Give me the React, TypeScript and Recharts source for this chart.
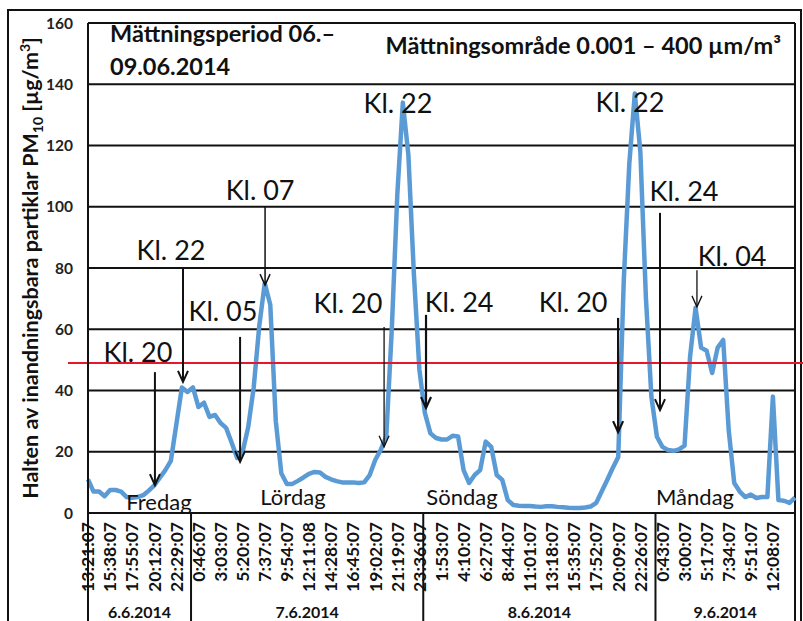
import React from 'react';
import {
    LineChart, Line, XAxis, YAxis, CartesianGrid,
    ReferenceLine, ReferenceDot
} from 'recharts';

const FONT = 'Lato, "Noto Sans", sans-serif';

// measurement start: 6.6.2014 13:21:07, one sample every 34.25 min
const startMinute = 13 * 60 + 21 + 7 / 60;
const sampleStep = 34.25;
const labelStep = 137;

// PM10 [µg/m3]
const pm10 = [
    11, 7, 7, 5.5, 7.5, 7.5, 7, 5.2, 5, 5.2,
    5.8, 7.3, 9, 11.5, 14, 17, 29, 41, 39.5, 41,
    34.6, 36, 31.4, 32, 29.4, 27.8, 23, 18, 20, 28,
    41, 61, 75, 68, 30, 13, 9.5, 9.5, 10.5, 11.6,
    12.8, 13.4, 13.2, 11.8, 11, 10.4, 10, 10, 10, 9.8,
    10, 12.4, 17.3, 20.6, 25, 60, 104, 134, 117, 78,
    46.7, 32.6, 26, 24.5, 24, 24, 25.2, 25, 14, 9.8,
    12.4, 14, 23.3, 21.6, 12.4, 10.8, 4.2, 2.6, 2.4, 2.3,
    2.3, 2.1, 2, 2.2, 2.2, 2, 1.9, 1.7, 1.6, 1.6,
    1.8, 2.1, 3.3, 7, 10.8, 14.7, 18.3, 76, 114, 137,
    118, 70.6, 38, 24.9, 21.6, 20.6, 20.3, 20.8, 22, 51,
    67, 54, 53, 45.7, 54, 56.5, 27, 9.8, 7, 5.2,
    6, 4.9, 5.2, 5.2, 38, 4.2, 4, 3.3, 5
];

const timeLabels = [
    '13:21:07', '15:38:07', '17:55:07', '20:12:07', '22:29:07', '0:46:07', '3:03:07', '5:20:07',
    '7:37:07', '9:54:07', '12:11:08', '14:28:07', '16:45:07', '19:02:07', '21:19:07', '23:36:07',
    '1:53:07', '4:10:07', '6:27:07', '8:44:07', '11:01:07', '13:18:07', '15:35:07', '17:52:07',
    '20:09:07', '22:26:07', '0:43:07', '3:00:07', '5:17:07', '7:34:07', '9:51:07', '12:08:07'
];
const dayLabels = ['6.6.2014', '7.6.2014', '8.6.2014', '9.6.2014'];
const weekdays = ['Fredag', 'Lördag', 'Söndag', 'Måndag'];
const weekdayAt = [440, 1271, 2319, 3764];
const weekdayLevel = [3.6, 5.2, 5.2, 5.2];
const limitValue = 49;
const yTicks = [0, 20, 40, 60, 80, 100, 120, 140, 160];

// "Kl." notes: text position, arrow x, arrow top and tip (minutes / µg/m3)
const notes = [
    { text: 'Kl. 20', tx: 310, ty: 52.6, ax: 415, top: 46, tip: 9.1, w: 2 },
    { text: 'Kl. 22', tx: 515, ty: 85.9, ax: 589, top: 80, tip: 42.8, w: 2 },
    { text: 'Kl. 05', tx: 837, ty: 66, ax: 943, top: 57.5, tip: 16.7, w: 2 },
    { text: 'Kl. 07', tx: 1067, ty: 105.5, ax: 1098, top: 100, tip: 74.4, w: 1.5 },
    { text: 'Kl. 20', tx: 1612, ty: 68.6, ax: 1836, top: 60.7, tip: 21.6, w: 1.3 },
    { text: 'Kl. 22', tx: 1922, ty: 133.9 },
    { text: 'Kl. 24', tx: 2301, ty: 68.9, ax: 2096, top: 64.7, tip: 34.3, w: 2.2 },
    { text: 'Kl. 20', tx: 3008, ty: 68.9, ax: 3287, top: 63.7, tip: 26.4, w: 2.2 },
    { text: 'Kl. 22', tx: 3361, ty: 134.2 },
    { text: 'Kl. 24', tx: 3696, ty: 105.1, ax: 3547, top: 98, tip: 33.6, w: 2 },
    { text: 'Kl. 04', tx: 3994, ty: 83.9, ax: 3776, top: 79.3, tip: 67.3, w: 1.3 },
];

const data = pm10.map((v, i) => ({ t: i * sampleStep, v }));
const xMax = (pm10.length - 1) * sampleStep;
const midnights = [1, 2, 3].map(d => d * 1440 - startMinute);
const dayBounds = [0, ...midnights, xMax];
const belowAxis = -35.3;

const TimeTick = (props: any) => {
    const { x, y, payload } = props;
    const label = timeLabels[Math.round(payload.value / labelStep)];
    return (
        <text x={x} y={y} transform={`rotate(-90 ${x} ${y})`} textAnchor="end" dy="0.36em"
            fontFamily={FONT} fontSize={17.5} fontWeight={700} fill="#111">{label}</text>
    );
};

const arrowShape = (w: number) => (p: any) => (
    <g stroke="#111" strokeWidth={w} fill="none">
        <line x1={p.x1} y1={p.y1} x2={p.x2} y2={p.y2} />
        <polyline points={`${p.x2 - 5},${p.y2 - 11} ${p.x2},${p.y2} ${p.x2 + 5},${p.y2 - 11}`} />
    </g>
);

const textShape = (text: string, size: number, weight = 400) => (p: any) => (
    <text x={p.cx} y={p.cy} textAnchor="middle" dy="0.36em" fontFamily={FONT}
        fontSize={size} fontWeight={weight} fill="#111">{text}</text>
);

export default function App() {
    return (
        <div style={{ position: 'absolute', left: 0, top: 0, width: 803, height: 621, background: '#fff', overflow: 'hidden' }}>
            <LineChart width={803} height={621} data={data} margin={{ top: 23, right: 8, bottom: 0, left: 28 }}>
                <rect x={8} y={10} width={793} height={640} fill="none" stroke="#111" strokeWidth={2} />
                <CartesianGrid vertical={false} stroke="#111" strokeWidth={2} />
                <XAxis dataKey="t" type="number" domain={[0, xMax]} ticks={timeLabels.map((_, k) => k * labelStep)}
                    interval={0} tick={TimeTick} tickLine={false} tickSize={0} tickMargin={9} height={108}
                    axisLine={{ stroke: '#111', strokeWidth: 2 }} />
                <YAxis domain={[0, 160]} ticks={yTicks} interval={0} width={60} tickLine={false} tickSize={0} tickMargin={15}
                    axisLine={{ stroke: '#111', strokeWidth: 2 }}
                    tick={{ fontFamily: FONT, fontSize: 15.5, fontWeight: 700, fill: '#222' }} />
                <ReferenceLine x={xMax} stroke="#111" strokeWidth={2} />
                {dayBounds.map((b, i) => (
                    <ReferenceLine key={'b' + i} ifOverflow="visible" stroke="#111" strokeWidth={2}
                        segment={[{ x: b, y: 0 }, { x: b, y: belowAxis }]} />
                ))}
                {dayLabels.map((d, i) => (
                    <ReferenceDot key={'d' + i} ifOverflow="visible" x={(dayBounds[i] + dayBounds[i + 1]) / 2} y={-32.3}
                        shape={textShape(d, 16, 700)} />
                ))}
                {weekdays.map((w, i) => (
                    <ReferenceDot key={'w' + i} x={weekdayAt[i]} y={weekdayLevel[i]} shape={textShape(w, 22)} />
                ))}
                <Line type="linear" dataKey="v" stroke="#5b9bd5" strokeWidth={4.5} dot={false}
                    strokeLinejoin="round" isAnimationActive={false} />
                <ReferenceLine y={limitValue} stroke="#e4172c" strokeWidth={2}
                    shape={(p: any) => <line x1={p.x1 - 20} y1={p.y1} x2={p.x2 + 8} y2={p.y2} stroke="#e4172c" strokeWidth={2} />} />
                {notes.map((n, i) => n.ax !== undefined ? (
                    <ReferenceLine key={'a' + i} segment={[{ x: n.ax, y: n.top }, { x: n.ax, y: n.tip }]}
                        shape={arrowShape(n.w as number)} />
                ) : null)}
                {notes.map((n, i) => (
                    <ReferenceDot key={'n' + i} x={n.tx} y={n.ty} shape={textShape(n.text, 27)} />
                ))}
                <text x={110} y={34} dy="0.36em" fontFamily={FONT} fontSize={23.5} fontWeight={700} fill="#111">Mättningsperiod 06.–</text>
                <text x={110} y={67} dy="0.36em" fontFamily={FONT} fontSize={23.5} fontWeight={700} fill="#111">09.06.2014</text>
                <text x={781} y={46} dy="0.36em" textAnchor="end" fontFamily={FONT} fontSize={23.5} fontWeight={700} fill="#111">Mättningsområde 0.001 – 400 µm/m³</text>
                <text transform="rotate(-90)" x={-268} y={30} dy="0.36em" textAnchor="middle" fontFamily={FONT}
                    fontSize={21.5} fontWeight={700} fill="#111">
                    Halten av inandningsbara partiklar PM<tspan fontSize={14} dy={5}>10</tspan>
                    <tspan dy={-5}> [µg/m</tspan><tspan fontSize={14} dy={-8}>3</tspan><tspan dy={8}>]</tspan>
                </text>
            </LineChart>
        </div>
    );
}
